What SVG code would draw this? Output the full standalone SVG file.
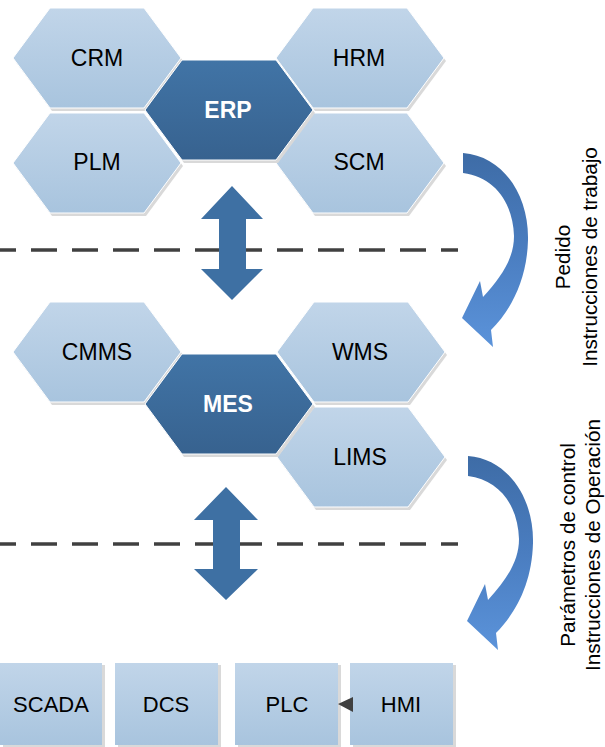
<svg xmlns="http://www.w3.org/2000/svg" width="605" height="747" viewBox="0 0 605 747">
<defs>
<linearGradient id="gLight" x1="0" y1="0" x2="0" y2="1">
<stop offset="0" stop-color="#c1d5e9"/>
<stop offset="1" stop-color="#a8c4de"/>
</linearGradient>
<linearGradient id="gDark" x1="0" y1="0" x2="0" y2="1">
<stop offset="0" stop-color="#4174a6"/>
<stop offset="1" stop-color="#37628f"/>
</linearGradient>
<linearGradient id="gCurve" x1="0" y1="0" x2="0" y2="1">
<stop offset="0" stop-color="#3e6ca6"/>
<stop offset="0.5" stop-color="#4a7dc0"/>
<stop offset="1" stop-color="#5b93da"/>
</linearGradient>
<polygon id="hex" points="0,50 37,0 131,0 168,50 131,100 37,100"/>
</defs>
<style>
.shadow{fill:#d9d9d9}
.light{fill:url(#gLight);stroke:#ffffff;stroke-width:1}
.dark{fill:url(#gDark);stroke:#ffffff;stroke-width:1}
.lbl{font-family:"Liberation Sans",Arial,sans-serif;font-size:23px;fill:#000;text-anchor:middle}
.blbl{font-family:"Liberation Sans",Arial,sans-serif;font-size:23px;font-weight:bold;fill:#fff;text-anchor:middle}
.box{font-family:"Liberation Sans",Arial,sans-serif;font-size:22px;fill:#000;text-anchor:middle}
.vt{font-family:"Liberation Sans",Arial,sans-serif;font-size:20.7px;fill:#000;text-anchor:middle}
.dash{stroke:#404040;stroke-width:3.5;stroke-dasharray:26 15;stroke-dashoffset:10;fill:none}
.dbl{fill:#3e70a3}
.curve{fill:url(#gCurve)}
</style>

<!-- separators -->
<line class="dash" x1="0" y1="250" x2="458" y2="250"/>
<line class="dash" x1="0" y1="544" x2="458" y2="544"/>

<!-- ERP level -->
<g id="CRM" transform="translate(13,8)">
<use href="#hex" class="shadow" x="2" y="3"/>
<use href="#hex" class="light"/>
<text class="lbl" x="84" y="58">CRM</text>
</g>
<g id="PLM" transform="translate(13,113)">
<use href="#hex" class="shadow" x="2" y="3"/>
<use href="#hex" class="light"/>
<text class="lbl" x="84" y="57">PLM</text>
</g>
<g id="HRM" transform="translate(276,8)">
<use href="#hex" class="shadow" x="2" y="3"/>
<use href="#hex" class="light"/>
<text class="lbl" x="83" y="58">HRM</text>
</g>
<g id="SCM" transform="translate(276,113)">
<use href="#hex" class="shadow" x="2" y="3"/>
<use href="#hex" class="light"/>
<text class="lbl" x="83" y="57">SCM</text>
</g>
<g id="ERP" transform="translate(145,60)">
<use href="#hex" class="shadow" x="2" y="3"/>
<use href="#hex" class="dark"/>
<text class="blbl" x="83" y="58">ERP</text>
</g>

<!-- MES level -->
<g id="CMMS" transform="translate(13,302)">
<use href="#hex" class="shadow" x="2" y="3"/>
<use href="#hex" class="light"/>
<text class="lbl" x="84" y="58">CMMS</text>
</g>
<g id="WMS" transform="translate(277,302)">
<use href="#hex" class="shadow" x="2" y="3"/>
<use href="#hex" class="light"/>
<text class="lbl" x="83" y="58">WMS</text>
</g>
<g id="LIMS" transform="translate(277,407)">
<use href="#hex" class="shadow" x="2" y="3"/>
<use href="#hex" class="light"/>
<text class="lbl" x="83" y="58">LIMS</text>
</g>
<g id="MES" transform="translate(145,354)">
<use href="#hex" class="shadow" x="2" y="3"/>
<use href="#hex" class="dark"/>
<text class="blbl" x="83" y="58">MES</text>
</g>

<!-- control level -->
<g id="SCADA">
<rect class="shadow" x="3" y="665" width="102" height="82"/>
<rect x="0" y="663" width="102" height="82" fill="url(#gLight)"/>
<text class="box" x="51" y="712">SCADA</text>
</g>
<g id="DCS">
<rect class="shadow" x="118" y="665" width="103" height="82"/>
<rect x="115" y="663" width="103" height="82" fill="url(#gLight)"/>
<text class="box" x="166" y="712">DCS</text>
</g>
<g id="PLC">
<rect class="shadow" x="238" y="665" width="103" height="82"/>
<rect x="235" y="663" width="103" height="82" fill="url(#gLight)"/>
<text class="box" x="287" y="712">PLC</text>
</g>
<g id="HMI">
<rect class="shadow" x="353" y="665" width="103" height="82"/>
<rect x="350" y="663" width="103" height="82" fill="url(#gLight)"/>
<text class="box" x="401" y="712">HMI</text>
</g>

<!-- connectors -->
<g id="connectors">
<polygon class="dbl" points="232,186 263,219 246,219 246,269 263,269 232,300 201,269 219,269 219,219 201,219"/>
<polygon class="dbl" points="226,487 258,520 240,520 240,569 258,569 226,600 194,569 213,569 213,520 194,520"/>
<path class="curve" d="M463,153 C503,156 529,195 528,240 C527,280 511,310 491,330 L493,347 L462,318 L480,281 L483,297 C502,276 514,258 514,236 C513,203 495,177 463,173 Z"/>
<path class="curve" transform="translate(5,303)" d="M463,153 C503,156 529,195 528,240 C527,280 511,310 491,330 L493,347 L462,318 L480,281 L483,297 C502,276 514,258 514,236 C513,203 495,177 463,173 Z"/>
<polygon points="338,704 353,697 353,712" fill="#404040"/>
</g>

<!-- flow labels -->
<text class="vt" transform="translate(570,257) rotate(-90)">Pedido</text>
<text class="vt" transform="translate(597,257) rotate(-90)">Instrucciones de trabajo</text>
<text class="vt" transform="translate(575,545) rotate(-90)">Parámetros de control</text>
<text class="vt" transform="translate(600,545) rotate(-90)">Instrucciones de Operación</text>
</svg>
